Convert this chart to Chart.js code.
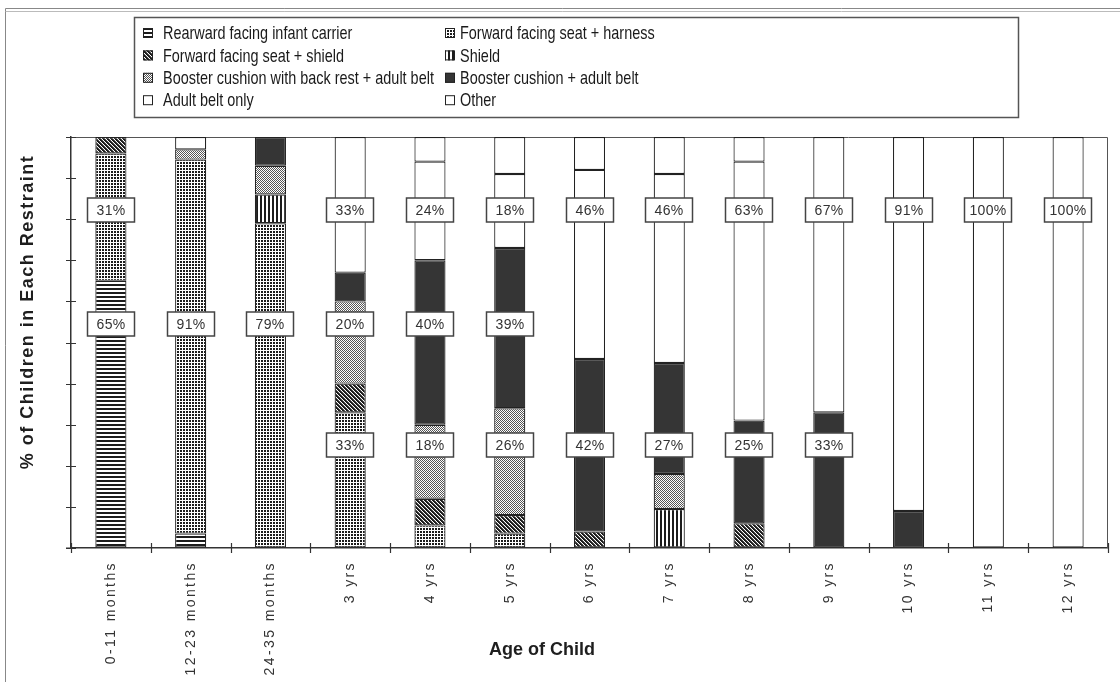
<!DOCTYPE html>
<html><head><meta charset="utf-8">
<script src="https://cdn.jsdelivr.net/npm/chart.js@4.4.1/dist/chart.umd.min.js"></script>
<style>html,body{margin:0;padding:0;background:#fff;}canvas{display:block;}</style>
</head><body>
<canvas id="c" width="1120" height="682" style="width:1120px;height:682px"></canvas>
<script>
// ---- data (stack order bottom -> top) ----
const categories = ['0-11 months','12-23 months','24-35 months','3 yrs','4 yrs','5 yrs','6 yrs','7 yrs','8 yrs','9 yrs','10 yrs','11 yrs','12 yrs'];
const seriesNames = ['Rearward facing infant carrier','Forward facing seat + harness','Forward facing seat + shield','Shield','Booster cushion with back rest + adult belt','Booster cushion + adult belt','Adult belt only','Other'];
const rearward    = [65, 3.5, null, null, null, null, null, null, null, null, null, null, null];
const harness     = [31, 91, 79, 33, 5.5, 3.5, null, null, null, null, null, null, null];
const seatShield  = [4, null, null, 7, 6.5, 4.5, 4, null, 6, null, null, null, null];
const shield      = [null, null, 7, null, null, null, null, 9.5, null, null, null, null, null];
const boosterBack = [null, 2.5, 7, 20, 18, 26, null, 8.5, null, null, null, null, null];
const booster     = [null, null, 7, 7, 40, 39, 42, 27, 25, 33, 9, null, null];
const adultBelt   = [null, 3, null, 33, 24, 18, 46, 46, 63, 67, 91, 100, 100];
const other       = [null, null, null, null, 6, 9, 8, 9, 6, null, null, null, null];
const labelRow1 = ['31%', null, null, '33%', '24%', '18%', '46%', '46%', '63%', '67%', '91%', '100%', '100%'];
const labelRow2 = ['65%', '91%', '79%', '20%', '40%', '39%', null, null, null, null, null, null, null];
const labelRow3 = [null, null, null, '33%', '18%', '26%', '42%', '27%', '25%', '33%', null, null, null];
const labelRowLevels = [82.2, 54.5, 25.1];
const yTickValues = [0, 10, 20, 30, 40, 50, 60, 70, 80, 90, 100];

// ---- patterns ----
function makePattern(kind) {
  const c = document.createElement('canvas');
  const g = c.getContext('2d');
  let s = 4;
  if (kind === 'grid') s = 3;
  if (kind === 'stipple') s = 2;
  c.width = c.height = s;
  g.fillStyle = '#fff'; g.fillRect(0, 0, s, s);
  g.fillStyle = '#1c1c1c';
  if (kind === 'hlines') { g.fillRect(0, 0, s, 2); }
  else if (kind === 'grid') { g.fillRect(0, 0, 2, 2); }
  else if (kind === 'diag') { for (let i = 0; i < 4; i++) { g.fillRect(i, i, 1, 1); g.fillRect((i + 1) % 4, i, 1, 1); g.fillStyle='#555'; g.fillRect((i + 2) % 4, i, 1, 1); g.fillStyle='#1c1c1c'; } }
  else if (kind === 'vlines') { g.fillRect(0, 0, 2, s); }
  else if (kind === 'stipple') { g.fillStyle = '#555'; g.fillRect(0, 0, 1, 1); g.fillRect(1, 1, 1, 1); }
  return g.createPattern(c, 'repeat');
}
const fills = [makePattern('hlines'), makePattern('grid'), makePattern('diag'), makePattern('vlines'), makePattern('stipple'), '#353535', '#ffffff', '#ffffff'];
const seriesData = [rearward, harness, seatShield, shield, boosterBack, booster, adultBelt, other];

const datasets = seriesData.map((d, i) => ({
  label: seriesNames[i], data: d, backgroundColor: fills[i],
  borderColor: '#222', borderWidth: 1.2, borderSkipped: false,
  barPercentage: 0.39, categoryPercentage: 1.0
}));

const FONT = '"Liberation Sans", Arial, Helvetica, sans-serif';

const decor = {
  id: 'decor',
  beforeDraw(chart) {
    const ctx = chart.ctx;
    ctx.fillStyle = '#fff'; ctx.fillRect(0, 0, chart.width, chart.height);
    ctx.save();
    ctx.strokeStyle = '#888'; ctx.lineWidth = 1;
    ctx.beginPath(); ctx.moveTo(5.5, 682); ctx.lineTo(5.5, 8.5); ctx.lineTo(1120, 8.5); ctx.stroke();
    ctx.strokeStyle = '#bbb';
    ctx.beginPath(); ctx.moveTo(5.5, 11.5); ctx.lineTo(1120, 11.5); ctx.stroke();
    ctx.restore();
    ctx.letterSpacing = '2.4px';
  },
  beforeDatasetsDraw(chart) {
    chart.ctx.letterSpacing = '0px';
    const {ctx, chartArea: a, scales: {x, y}} = chart;
    ctx.save();
    ctx.strokeStyle = '#555'; ctx.lineWidth = 1;
    ctx.beginPath(); ctx.moveTo(a.left, a.top + 0.5); ctx.lineTo(a.right - 0.5, a.top + 0.5); ctx.lineTo(a.right - 0.5, a.bottom); ctx.stroke();
    ctx.strokeStyle = '#333'; ctx.lineWidth = 1.2;
    ctx.beginPath();
    yTickValues.forEach(v => { const py = Math.round(y.getPixelForValue(v)) + 0.5; ctx.moveTo(a.left - 5, py); ctx.lineTo(a.left + 5, py); });
    for (let i = 0; i <= categories.length; i++) {
      let px;
      if (i === 0) px = a.left; else if (i === categories.length) px = a.right;
      else px = (x.getPixelForValue(i - 1) + x.getPixelForValue(i)) / 2;
      px = Math.round(px) + 0.5;
      ctx.moveTo(px, a.bottom - 5); ctx.lineTo(px, a.bottom + 5);
    }
    ctx.moveTo(a.left - 5, a.bottom); ctx.lineTo(a.left, a.bottom);
    ctx.stroke();
    ctx.restore();
  },
  afterDatasetsDraw(chart) {
    const {ctx, scales: {x, y}} = chart;
    ctx.save();
    ctx.letterSpacing = '0.3px';
    ctx.font = '14px ' + FONT;
    ctx.textAlign = 'center'; ctx.textBaseline = 'middle';
    [labelRow1, labelRow2, labelRow3].forEach((row, r) => {
      const py = Math.round(y.getPixelForValue(labelRowLevels[r]));
      row.forEach((t, i) => {
        if (!t) return;
        const px = Math.round(x.getPixelForValue(i));
        ctx.fillStyle = '#fff'; ctx.fillRect(px - 23.5, py - 12, 47, 24);
        ctx.strokeStyle = '#444'; ctx.lineWidth = 1.5; ctx.strokeRect(px - 23.5, py - 12, 47, 24);
        ctx.fillStyle = '#333'; ctx.fillText(t, px, py + 1);
      });
    });
    ctx.restore();
  },
  afterDraw(chart) {
    const ctx = chart.ctx;
    ctx.save();
    ctx.letterSpacing = '0px';
    ctx.fillStyle = '#fff'; ctx.fillRect(134, 17, 884, 100);
    ctx.strokeStyle = '#555'; ctx.lineWidth = 1.5; ctx.strokeRect(134.5, 17.5, 884, 100);
    chart.data.datasets.forEach((ds, i) => {
      const col = i % 2, row = Math.floor(i / 2);
      const mx = col ? 445 : 143, tx = col ? 460 : 163;
      const my = 28 + row * 22.4;
      ctx.fillStyle = ds.backgroundColor; ctx.fillRect(mx, my, 10, 10);
      ctx.strokeStyle = '#222'; ctx.lineWidth = 1; ctx.strokeRect(mx + 0.5, my + 0.5, 9, 9);
      ctx.save();
      ctx.translate(tx, my + 5);
      ctx.scale(0.76, 1);
      ctx.font = '19px ' + FONT; ctx.fillStyle = '#1a1a1a';
      ctx.textAlign = 'left'; ctx.textBaseline = 'middle';
      ctx.fillText(ds.label, 0, 1);
      ctx.restore();
    });
    ctx.fillStyle = '#1e1e1e';
    ctx.font = 'bold 18px ' + FONT;
    ctx.textAlign = 'center'; ctx.textBaseline = 'middle';
    ctx.fillText('Age of Child', 542, 650);
    ctx.save();
    ctx.translate(28, 312); ctx.rotate(-Math.PI / 2);
    ctx.letterSpacing = '1.5px';
    ctx.fillText('% of Children in Each Restraint', 0, 0);
    ctx.restore();
    ctx.restore();
  }
};

new Chart(document.getElementById('c'), {
  type: 'bar',
  data: { labels: categories, datasets },
  options: {
    responsive: false, animation: false, devicePixelRatio: 1,
    layout: { padding: { left: 71, right: 12, top: 137, bottom: 0 } },
    plugins: { legend: { display: false }, title: { display: false }, tooltip: { enabled: false } },
    scales: {
      x: {
        stacked: true, offset: true,
        grid: { display: true, drawOnChartArea: false, drawTicks: false },
        border: { display: true, color: '#333', width: 1.5 },
        ticks: { autoSkip: false, minRotation: 90, maxRotation: 90, padding: 13, color: '#333', font: { family: FONT, size: 14 } },
        afterFit(s) { s.height = 134; }
      },
      y: {
        stacked: true, min: 0, max: 100,
        grid: { display: true, drawOnChartArea: false, drawTicks: false },
        border: { display: true, color: '#333', width: 1.5 },
        ticks: { display: false, stepSize: 10 },
        afterFit(s) { s.width = 0; }
      }
    }
  },
  plugins: [decor]
});
</script>
</body></html>
